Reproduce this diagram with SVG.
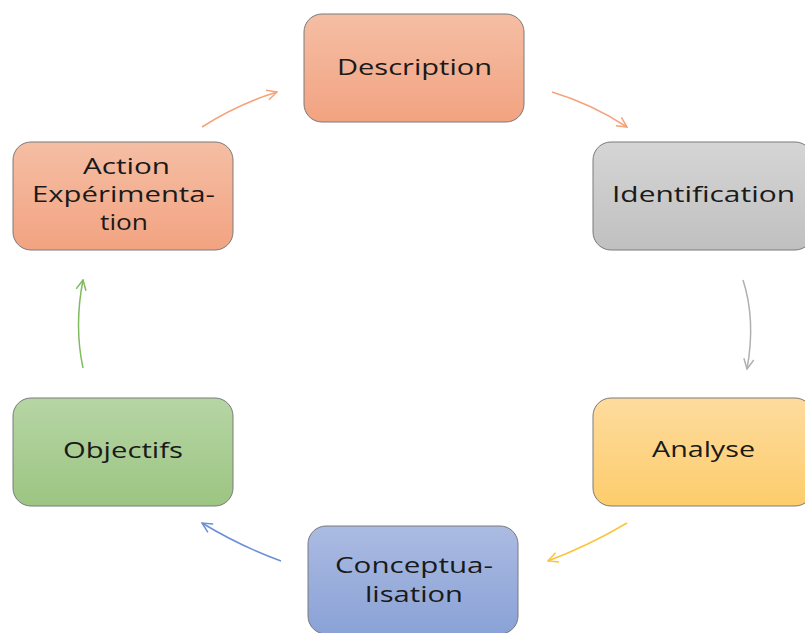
<svg xmlns="http://www.w3.org/2000/svg" width="805" height="633" viewBox="0 0 805 633">
<defs>
<linearGradient id="gOrange" x1="0" y1="0" x2="0" y2="1"><stop offset="0" stop-color="#f5bea4"/><stop offset="1" stop-color="#f2a381"/></linearGradient>
<linearGradient id="gGray" x1="0" y1="0" x2="0" y2="1"><stop offset="0" stop-color="#d5d5d5"/><stop offset="1" stop-color="#c0c0c0"/></linearGradient>
<linearGradient id="gYellow" x1="0" y1="0" x2="0" y2="1"><stop offset="0" stop-color="#fedb9e"/><stop offset="1" stop-color="#fdcd6c"/></linearGradient>
<linearGradient id="gBlue" x1="0" y1="0" x2="0" y2="1"><stop offset="0" stop-color="#abbbe2"/><stop offset="1" stop-color="#8aa2d6"/></linearGradient>
<linearGradient id="gGreen" x1="0" y1="0" x2="0" y2="1"><stop offset="0" stop-color="#b6d5a4"/><stop offset="1" stop-color="#9cc582"/></linearGradient>
<marker id="aOrange" viewBox="0 0 12 12" refX="11" refY="6" markerWidth="12" markerHeight="12" markerUnits="userSpaceOnUse" orient="auto"><path d="M1,1 L11,6 L1,11" fill="none" stroke="#f4a37a" stroke-width="1.5"/></marker>
<marker id="aGray" viewBox="0 0 12 12" refX="11" refY="6" markerWidth="12" markerHeight="12" markerUnits="userSpaceOnUse" orient="auto"><path d="M1,1 L11,6 L1,11" fill="none" stroke="#b0b0b0" stroke-width="1.5"/></marker>
<marker id="aYellow" viewBox="0 0 12 12" refX="11" refY="6" markerWidth="12" markerHeight="12" markerUnits="userSpaceOnUse" orient="auto"><path d="M1,1 L11,6 L1,11" fill="none" stroke="#fcc43a" stroke-width="1.5"/></marker>
<marker id="aBlue" viewBox="0 0 12 12" refX="11" refY="6" markerWidth="12" markerHeight="12" markerUnits="userSpaceOnUse" orient="auto"><path d="M1,1 L11,6 L1,11" fill="none" stroke="#6b90d4" stroke-width="1.5"/></marker>
<marker id="aGreen" viewBox="0 0 12 12" refX="11" refY="6" markerWidth="12" markerHeight="12" markerUnits="userSpaceOnUse" orient="auto"><path d="M1,1 L11,6 L1,11" fill="none" stroke="#80bb5e" stroke-width="1.5"/></marker>
</defs>
<style>
.box{stroke:#7a7a7a;stroke-width:1}
.lbl{font-family:"Open Sans","Liberation Sans",sans-serif;font-size:22.5px;fill:#1a1a1a;text-anchor:middle}
.c{fill:none;stroke-width:1.5}
</style>
<rect width="805" height="633" fill="#ffffff"/>
<g id="connectors">
<path class="c" d="M552,92 Q592,104 627,127" stroke="#f4a37a" marker-end="url(#aOrange)"/>
<path class="c" d="M743,280 Q756,320 747,369" stroke="#b0b0b0" marker-end="url(#aGray)"/>
<path class="c" d="M627,523 Q590,545 548,561" stroke="#fcc43a" marker-end="url(#aYellow)"/>
<path class="c" d="M281,561 Q240,546 202,523" stroke="#6b90d4" marker-end="url(#aBlue)"/>
<path class="c" d="M83,368 Q74,326 83,280" stroke="#80bb5e" marker-end="url(#aGreen)"/>
<path class="c" d="M202,127 Q238,104 277,92" stroke="#f4a37a" marker-end="url(#aOrange)"/>
</g>
<g id="description">
<rect class="box" x="304" y="14" width="220" height="108" rx="18" fill="url(#gOrange)"/>
<text class="lbl" x="414.5" y="75" textLength="155" lengthAdjust="spacingAndGlyphs">Description</text>
</g>
<g id="identification">
<rect class="box" x="593" y="142" width="220" height="108" rx="18" fill="url(#gGray)"/>
<text class="lbl" x="703.5" y="202" textLength="183" lengthAdjust="spacingAndGlyphs">Identification</text>
</g>
<g id="analyse">
<rect class="box" x="593" y="398" width="220" height="108" rx="18" fill="url(#gYellow)"/>
<text class="lbl" x="703.5" y="457" textLength="103" lengthAdjust="spacingAndGlyphs">Analyse</text>
</g>
<g id="conceptualisation">
<rect class="box" x="308" y="526" width="210" height="108" rx="18" fill="url(#gBlue)"/>
<text class="lbl" x="414" y="573" textLength="158" lengthAdjust="spacingAndGlyphs">Conceptua-</text>
<text class="lbl" x="414" y="602" textLength="98" lengthAdjust="spacingAndGlyphs">lisation</text>
</g>
<g id="objectifs">
<rect class="box" x="13" y="398" width="220" height="108" rx="18" fill="url(#gGreen)"/>
<text class="lbl" x="123" y="458" textLength="120" lengthAdjust="spacingAndGlyphs">Objectifs</text>
</g>
<g id="action">
<rect class="box" x="13" y="142" width="220" height="108" rx="18" fill="url(#gOrange)"/>
<text class="lbl" x="126.5" y="174" textLength="87" lengthAdjust="spacingAndGlyphs">Action</text>
<text class="lbl" x="123.5" y="202" textLength="183" lengthAdjust="spacingAndGlyphs">Expérimenta-</text>
<text class="lbl" x="124" y="230" textLength="48" lengthAdjust="spacingAndGlyphs">tion</text>
</g>
</svg>
